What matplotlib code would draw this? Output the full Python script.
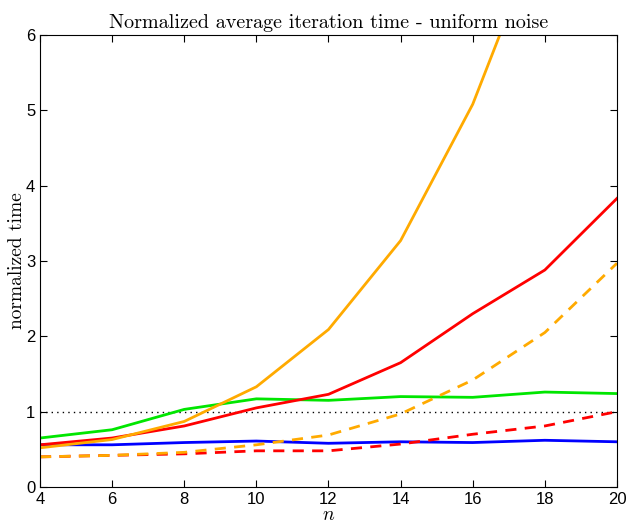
import matplotlib
matplotlib.use("Agg")
import matplotlib.pyplot as plt

plt.rcParams["mathtext.fontset"] = "cm"

n = [4, 6, 8, 10, 12, 14, 16, 18, 20]

orange_solid = [0.52, 0.63, 0.87, 1.33, 2.09, 3.27, 5.08, 7.53, 10.2]
red_solid = [0.56, 0.65, 0.81, 1.05, 1.23, 1.65, 2.30, 2.88, 3.83]
orange_dashed = [0.40, 0.42, 0.46, 0.56, 0.69, 0.97, 1.42, 2.05, 2.97]
red_dashed = [0.40, 0.42, 0.44, 0.48, 0.48, 0.57, 0.70, 0.81, 1.00]
green_solid = [0.65, 0.76, 1.03, 1.17, 1.15, 1.20, 1.19, 1.26, 1.24]
blue_solid = [0.56, 0.56, 0.59, 0.61, 0.58, 0.60, 0.59, 0.62, 0.60]

fig = plt.figure(figsize=(6.27, 5.29), dpi=100)
ax = fig.add_axes([0.0638, 0.0794, 0.9202, 0.8546])

ax.plot([4, 20], [1, 1], color="black", linestyle=(0, (1, 3)), linewidth=1.0)
ax.plot(n, blue_solid, color="#0000ff", linewidth=2)
ax.plot(n, green_solid, color="#00e600", linewidth=2)
ax.plot(n, red_dashed, color="#ff0000", linewidth=2, linestyle=(0, (4, 3)))
ax.plot(n, orange_dashed, color="#ffaa00", linewidth=2, linestyle=(0, (4, 3)))
ax.plot(n, red_solid, color="#ff0000", linewidth=2)
ax.plot(n, orange_solid, color="#ffaa00", linewidth=2)

ax.set_xlim(4, 20)
ax.set_ylim(0, 6)
ax.set_xticks(range(4, 21, 2))
ax.set_yticks(range(0, 7))
ax.tick_params(direction="in", top=True, right=True, length=5, labelsize=12)
for lab in ax.get_xticklabels() + ax.get_yticklabels():
    lab.set_family("Liberation Sans")

ax.set_title("Normalized average iteration time - uniform noise",
             family="cmr10", fontsize=14.5, pad=5)
ax.set_ylabel("normalized time", family="cmr10", fontsize=14, labelpad=0)
ax.set_xlabel("$n$", fontsize=14, labelpad=-1)

fig.savefig("out.png", dpi=100)
